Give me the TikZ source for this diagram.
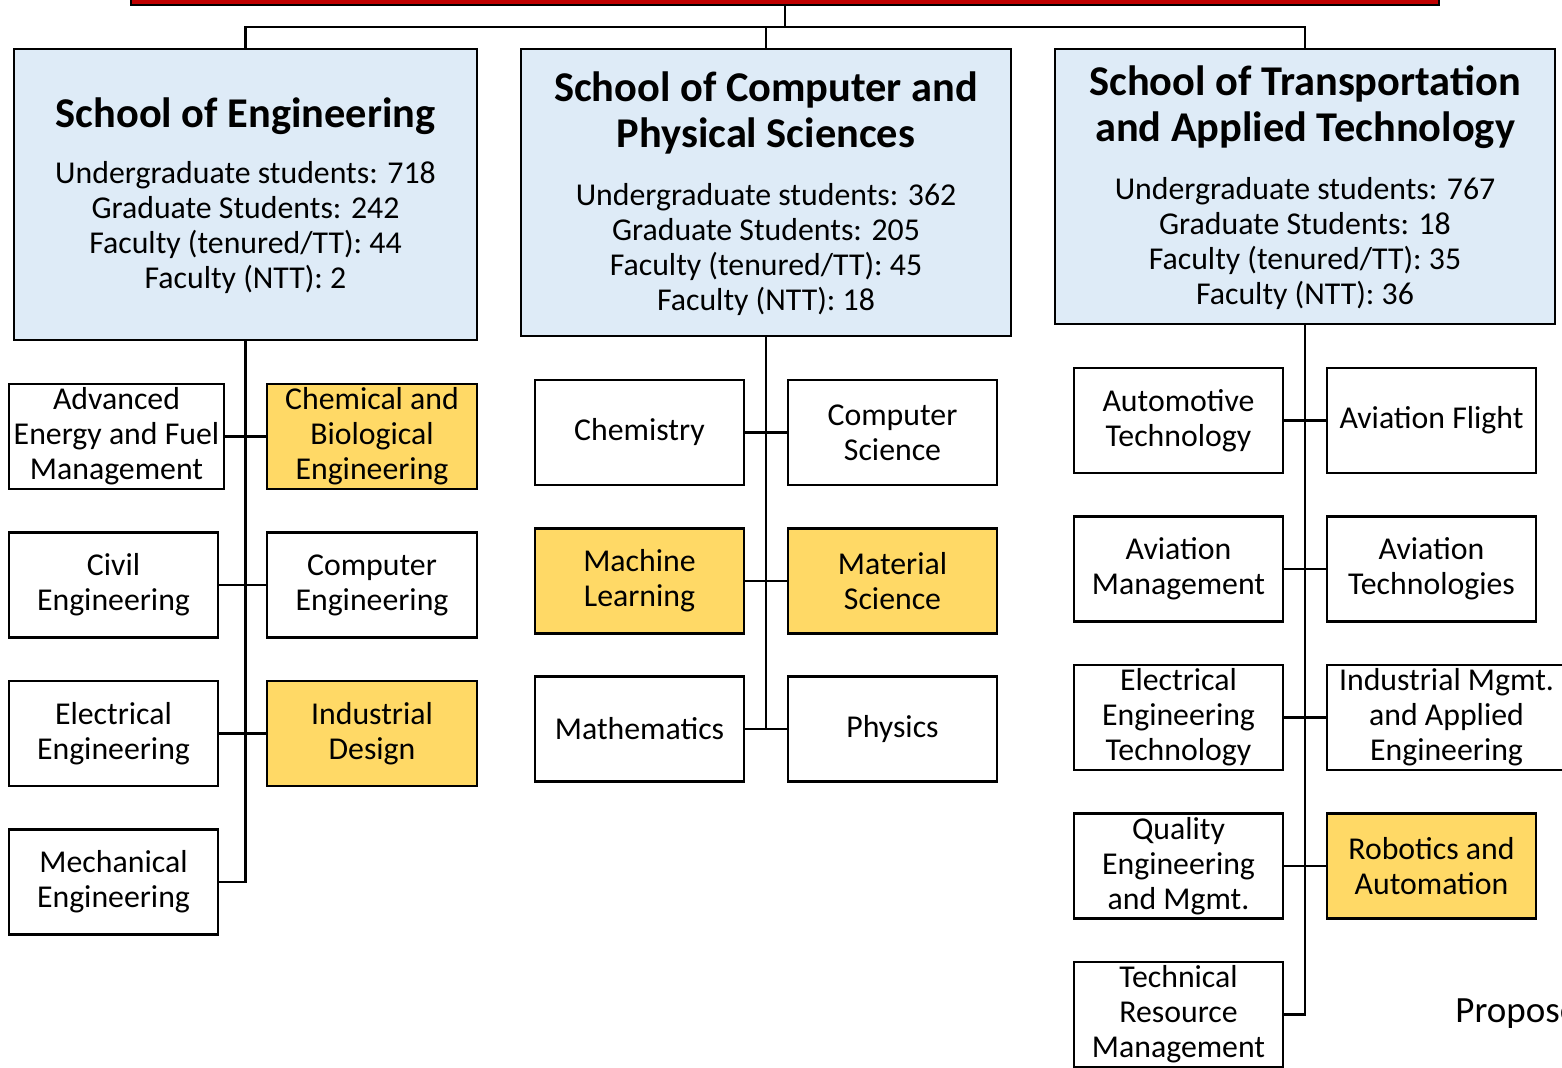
\documentclass[tikz,border=0pt]{standalone}
\usepackage{fontspec}
\setmainfont{Carlito}
\definecolor{schoolblue}{HTML}{DEEBF7}
\definecolor{propyellow}{HTML}{FFD966}
\definecolor{topred}{HTML}{C00000}
\tikzset{
  unit/.style={draw, line width=1.2pt, inner sep=0pt, minimum width=104.5pt, minimum height=52.5pt, align=center, font=\fontsize{15.9}{17.5}\selectfont},
  wideunit/.style={unit, minimum width=105pt},
  prop/.style={fill=propyellow},
  school/.style={draw, line width=1.2pt, fill=schoolblue, inner sep=0pt},
  schooltitle/.style={font=\fontsize{21.2}{23}\selectfont\bfseries, align=center, inner sep=0pt},
  stats/.style={font=\fontsize{15.9}{17.5}\selectfont, align=center, inner sep=0pt},
  conn/.style={line width=1.2pt},
}
\begin{document}
\begin{tikzpicture}[x=0.5pt,y=-0.5pt]
\useasboundingbox (0,0) rectangle (1562,1067);
% top bar
\node[draw, line width=1.2pt, fill=topred, minimum width=654pt, minimum height=12.5pt, inner sep=0pt] (top) at (785,-7.5) {};
% schools
\node[school, minimum width=231.5pt, minimum height=145.5pt] (eng) at (245.5,194.5) {};
\node[schooltitle] (engt) at (245.5,116) {School of Engineering};
\node[stats] (engs) at (245.5,228) {Undergraduate students: 718\\Graduate Students: 242\\Faculty (tenured/TT): 44\\Faculty (NTT): 2};
\node[school, minimum width=245pt, minimum height=143.5pt] (cps) at (766,192.5) {};
\node[schooltitle] (cpst) at (766,113) {School of Computer and\\Physical Sciences};
\node[stats] (cpss) at (766,249.5) {Undergraduate students: 362\\Graduate Students: 205\\Faculty (tenured/TT): 45\\Faculty (NTT): 18};
\node[school, minimum width=250pt, minimum height=137.5pt] (tat) at (1305,186.5) {};
\node[schooltitle] (tatt) at (1305,107.5) {School of Transportation\\and Applied Technology};
\node[stats] (tats) at (1305,243.5) {Undergraduate students: 767\\Graduate Students: 18\\Faculty (tenured/TT): 35\\Faculty (NTT): 36};
% top connectors
\coordinate (j) at (785,27);
\draw[conn] (top.south) -- (j);
\draw[conn] (eng.north) |- (j) -| (tat.north);
\draw[conn] (cps.north) -- (cps.north |- j);
% Engineering units
\node[unit, minimum width=107.5pt] (adv) at (116.5,436.5) {Advanced\\Energy and Fuel\\Management};
\node[wideunit, prop] (chem) at (372,436.5) {Chemical and\\Biological\\Engineering};
\node[unit] (civ) at (113.5,585) {Civil\\Engineering};
\node[wideunit] (ce) at (372,585) {Computer\\Engineering};
\node[unit] (ee) at (113.5,733.5) {Electrical\\Engineering};
\node[wideunit, prop] (ind) at (372,733.5) {Industrial\\Design};
\node[unit] (me) at (113.5,882) {Mechanical\\Engineering};
\draw[conn] (eng.south) |- (me.east);
\draw[conn] (adv.east) -- (chem.west);
\draw[conn] (civ.east) -- (ce.west);
\draw[conn] (ee.east) -- (ind.west);
% CPS units
\node[unit] (chy) at (639.5,432.5) {Chemistry};
\node[unit] (cs) at (892.5,432.5) {Computer\\Science};
\node[unit, prop] (ml) at (639.5,581) {Machine\\Learning};
\node[unit, prop] (ms) at (892.5,581) {Material\\Science};
\node[unit] (math) at (639.5,729) {Mathematics};
\node[unit] (phy) at (892.5,729) {Physics};
\draw[conn] (cps.south) -- (cps.south |- math.east);
\draw[conn] (chy.east) -- (cs.west);
\draw[conn] (ml.east) -- (ms.west);
\draw[conn] (math.east) -- (phy.west);
% TAT units
\node[unit] (aut) at (1178.5,420.5) {Automotive\\Technology};
\node[unit] (af) at (1431.5,420.5) {Aviation Flight};
\node[unit] (am) at (1178.5,569) {Aviation\\Management};
\node[unit] (at) at (1431.5,569) {Aviation\\Technologies};
\node[unit] (eet) at (1178.5,717.5) {Electrical\\Engineering\\Technology};
\node[unit, minimum width=119.5pt] (imae) at (1446.5,717.5) {Industrial Mgmt.\\and Applied\\Engineering};
\node[unit] (qem) at (1178.5,866) {Quality\\Engineering\\and Mgmt.};
\node[unit, prop] (ra) at (1431.5,866) {Robotics and\\Automation};
\node[unit] (trm) at (1178.5,1014.5) {Technical\\Resource\\Management};
\draw[conn] (tat.south) |- (trm.east);
\draw[conn] (aut.east) -- (af.west);
\draw[conn] (am.east) -- (at.west);
\draw[conn] (eet.east) -- (imae.west);
\draw[conn] (qem.east) -- (ra.west);
% legend text (cut off at the edge, as in the reference)
\node[font=\fontsize{18.5}{20}\selectfont, inner sep=0pt, anchor=west] (legend) at (1455,1013) {Proposed};
\end{tikzpicture}
\end{document}
